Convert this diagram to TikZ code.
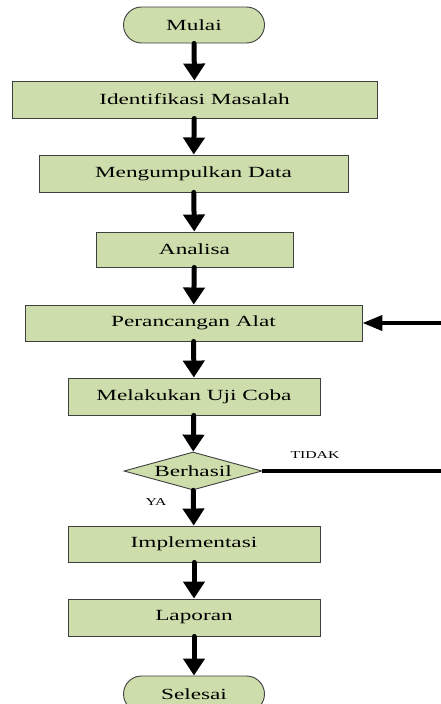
\documentclass[tikz,border=0pt]{standalone}
\usepackage{fontspec}
\setmainfont{Liberation Serif}[FakeStretch=1.5]
\usepackage{tikz}
\usetikzlibrary{arrows.meta,positioning,shapes.geometric}
\definecolor{flowgreen}{HTML}{CEDDAC}
\definecolor{flowedge}{HTML}{3F3F3F}
\begin{document}
\begin{tikzpicture}[x=1pt,y=-1pt,
      font=\fontsize{15.5pt}{18pt}\selectfont,
      box/.style={draw=flowedge,line width=0.9pt,fill=flowgreen,inner sep=2pt,
                  minimum height=37pt},
      term/.style={box,rounded corners=18pt,minimum width=141pt,minimum height=36pt},
      dec/.style={diamond,draw=flowedge,line width=0.9pt,fill=flowgreen,inner sep=1pt,
                  shape aspect=3.6,minimum width=138pt,minimum height=38pt},
      fl/.style={-{Triangle[length=17pt,width=21pt]},line width=5pt,line cap=round},
      flback/.style={-{Triangle[length=20pt,width=15pt]},line width=4pt},
      lbl/.style={font=\fontsize{10.5pt}{12pt}\selectfont}]
    \useasboundingbox (0,0) rectangle (441,704);
    \node[term] (mulai) at (194,25) {Mulai};
    \node[box,minimum width=365pt] (ident) at (194.5,99.5) {Identifikasi Masalah};
    \node[box,minimum width=309pt] (kumpul) at (193.5,173.5) {Mengumpulkan Data};
    \node[box,minimum width=197pt,minimum height=35pt] (analisa) at (194.5,249.5) {Analisa};
    \node[box,minimum width=337pt,minimum height=36pt] (rancang) at (193.5,323) {Perancangan Alat};
    \node[box,minimum width=252pt] (uji) at (194,396.5) {Melakukan Uji Coba};
    \node[dec] (hasil) at (193,471) {Berhasil};
    \node[box,minimum width=252pt,minimum height=36pt] (impl) at (194,544) {Implementasi};
    \node[box,minimum width=252pt] (lapor) at (194,617.5) {Laporan};
    \node[term] (selesai) at (194,694) {Selesai};
    \node[lbl] (tidak) at (315,455) {TIDAK};
    \node[lbl] (ya) at (156,502) {YA};
    \coordinate (tidakend) at (441,471);
    \coordinate (balik) at (441,323);
    \draw[fl] (mulai) -- (ident); \draw[fl] (ident) -- (kumpul);
    \draw[fl] (kumpul) -- (analisa); \draw[fl] (analisa) -- (rancang);
    \draw[fl] (rancang) -- (uji); \draw[fl] (uji) -- (hasil);
    \draw[fl] (hasil) -- (impl); \draw[fl] (impl) -- (lapor);
    \draw[fl] (lapor) -- (selesai);
    \draw[line width=4pt] (hasil.east) -- (tidakend);
    \draw[flback] (balik) -- (rancang.east);
  \end{tikzpicture}
\end{document}
